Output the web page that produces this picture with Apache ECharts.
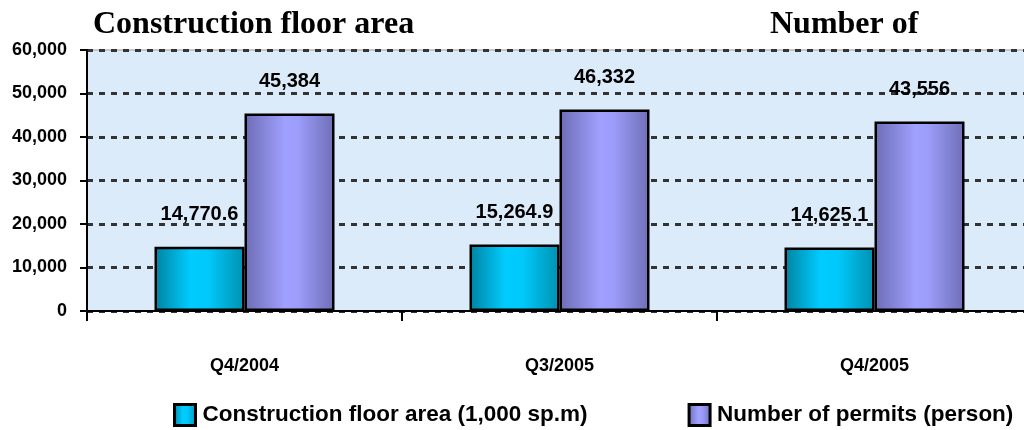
<!DOCTYPE html>
<html><head><meta charset="utf-8">
<script src="https://cdn.jsdelivr.net/npm/echarts@6/dist/echarts.min.js"></script>
<style>html,body{margin:0;padding:0;background:#fff;overflow:hidden;width:1024px;height:430px}#c{width:1032px;height:430px}</style>
</head><body><div id="c"></div>
<script>
var categories = ['Q4/2004', 'Q3/2005', 'Q4/2005'];
var floorArea = [14770.6, 15264.9, 14625.1];
var permits = [45384, 46332, 43556];
var seriesNames = ['Construction floor area (1,000 sp.m)', 'Number of permits (person)'];
var yTicks = { min: 0, max: 60000, interval: 10000 };

function fmt(v, dec) {
  return Number(v).toLocaleString('en-US', {minimumFractionDigits: dec, maximumFractionDigits: dec});
}
var chart = echarts.init(document.getElementById('c'));
var cyanGrad = new echarts.graphic.LinearGradient(0,0,1,0,[
  {offset:0,color:'#00829f'},{offset:0.4,color:'#00ccff'},{offset:0.6,color:'#00c8fa'},{offset:1,color:'#0090b0'}]);
var purpleGrad = new echarts.graphic.LinearGradient(0,0,1,0,[
  {offset:0,color:'#6c6cb4'},{offset:0.45,color:'#a0a0ff'},{offset:0.6,color:'#9c9cfa'},{offset:1,color:'#6e6eb6'}]);
var labelStyle = {show:true, position:'top', distance:22, color:'#000', fontFamily:'Arial, Liberation Sans', fontWeight:'bold', fontSize:20};
var titleFont = {fontFamily:'Liberation Serif, Times New Roman, serif', fontWeight:'bold', fontSize:32, color:'#000'};
chart.setOption({
  animation:false,
  backgroundColor:'#ffffff',
  title:[
    {text:'Construction floor area', left:88, top:4, textStyle:titleFont},
    {text:'Number of', left:765, top:4, textStyle:titleFont}
  ],
  legend:{
    left:168, top:398, itemWidth:21, itemHeight:21, itemGap:100, icon:'rect',
    itemStyle:{borderColor:'#000', borderWidth:3},
    textStyle:{fontFamily:'Arial, Liberation Sans', fontWeight:'bold', fontSize:22.5, color:'#000', padding:[0,0,0,2]},
    data:seriesNames
  },
  grid:{left:87, top:50, right:0, height:261, show:true, backgroundColor:'#dcebf9', borderColor:'#9a9a9a', borderWidth:1},
  xAxis:{
    type:'category', data:categories,
    axisLine:{lineStyle:{color:'#000', width:2}},
    axisTick:{show:true, length:10, lineStyle:{color:'#000', width:2}},
    axisLabel:{margin:46, color:'#000', fontFamily:'Arial, Liberation Sans', fontWeight:'bold', fontSize:18}
  },
  yAxis:{
    type:'value', min:yTicks.min, max:yTicks.max, interval:yTicks.interval,
    axisLine:{show:true, lineStyle:{color:'#000', width:2}},
    axisTick:{show:true, length:7, lineStyle:{color:'#000', width:2}},
    axisLabel:{margin:20, color:'#000', fontFamily:'Arial, Liberation Sans', fontWeight:'bold', fontSize:18, formatter:function(v){return fmt(v,0);}},
    splitLine:{show:true, lineStyle:{color:'#333', width:3, type:[6,6]}}
  },
  series:[
    {name:seriesNames[0], type:'bar', data:floorArea, barWidth:90, barGap:'0%',
     itemStyle:{color:cyanGrad, borderColor:'#000', borderWidth:2.5},
     label:Object.assign({}, labelStyle, {formatter:function(p){return fmt(p.value,1);}})},
    {name:seriesNames[1], type:'bar', data:permits, barWidth:90, barGap:'0%',
     itemStyle:{color:purpleGrad, borderColor:'#000', borderWidth:2.5},
     label:Object.assign({}, labelStyle, {formatter:function(p){return fmt(p.value,0);}})}
  ]
});
</script></body></html>
